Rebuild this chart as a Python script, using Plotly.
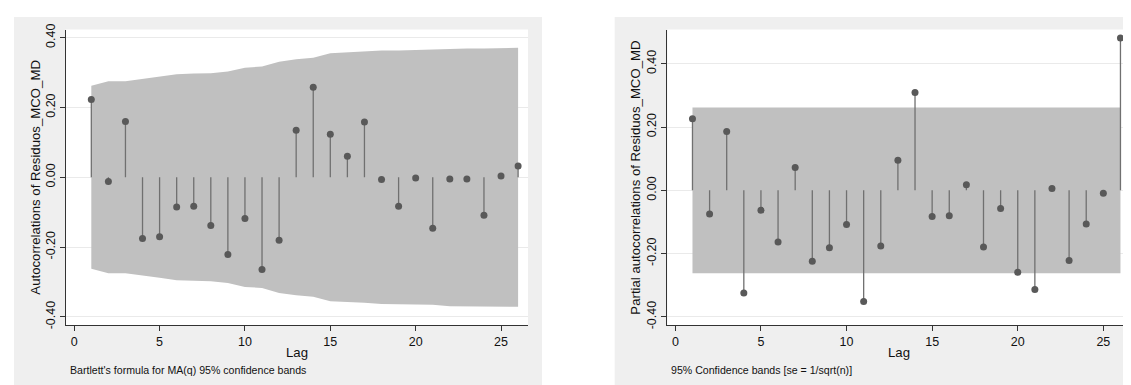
import plotly.graph_objects as go

# ---------------- data ----------------
lags = list(range(1, 27))
acf_values = [0.223, -0.012, 0.160, -0.175, -0.170, -0.085, -0.083, -0.138, -0.221, -0.118,
              -0.264, -0.180, 0.135, 0.258, 0.123, 0.060, 0.158, -0.006, -0.083, -0.002,
              -0.146, -0.005, -0.005, -0.109, 0.004, 0.032]
acf_band = [0.262, 0.275, 0.275, 0.281, 0.288, 0.295, 0.297, 0.298, 0.303, 0.314,
            0.317, 0.331, 0.338, 0.342, 0.355, 0.358, 0.359, 0.363, 0.363, 0.365,
            0.365, 0.369, 0.369, 0.369, 0.371, 0.371]
pacf_values = [0.226, -0.075, 0.186, -0.324, -0.063, -0.163, 0.072, -0.224, -0.181, -0.108,
               -0.351, -0.176, 0.095, 0.309, -0.083, -0.080, 0.018, -0.179, -0.057, -0.259,
               -0.313, 0.006, -0.222, -0.106, -0.009, 0.481]
pacf_band = 0.262

x_ticks = [0, 5, 10, 15, 20, 25]
y_ticks = [-0.4, -0.2, 0.0, 0.2, 0.4]
y_ticktext = ["-0.40", "-0.20", "0.00", "0.20", "0.40"]

acf_title = "Autocorrelations of Residuos_MCO_MD"
pacf_title = "Partial autocorrelations of Residuos_MCO_MD"
x_title = "Lag"
acf_note = "Bartlett's formula for MA(q) 95% confidence bands"
pacf_note = "95% Confidence bands [se = 1/sqrt(n)]"

# ---------------- styling ----------------
W, H = 1131, 385
FONT = "Arial, Liberation Sans, sans-serif"
BAND = "#c0c0c0"
DOT = "#595959"
STEM = "#707070"
PANEL = "#efefef"
GRID = "#eaeaea"
AXIS = "#333333"
TICK_SIZE = 12.5
TITLE_SIZE = 13.2
NOTE_SIZE = 10.6


def px(x):
    return x / W


def py(y):
    return 1 - y / H


fig = go.Figure()


def add_panel(xref, yref, band_x, band_hi, band_lo, values):
    fig.add_trace(go.Scatter(
        x=band_x + band_x[::-1], y=band_hi + band_lo[::-1],
        fill="toself", fillcolor=BAND, line=dict(width=0), mode="lines",
        hoverinfo="skip", showlegend=False, xaxis=xref, yaxis=yref))
    sx, sy = [], []
    for k, v in zip(lags, values):
        sx += [k, k, None]
        sy += [0, v, None]
    fig.add_trace(go.Scatter(
        x=sx, y=sy, mode="lines", line=dict(color=STEM, width=1.3),
        hoverinfo="skip", showlegend=False, xaxis=xref, yaxis=yref))
    fig.add_trace(go.Scatter(
        x=lags, y=values, mode="markers",
        marker=dict(color=DOT, size=7, line=dict(width=0)),
        showlegend=False, xaxis=xref, yaxis=yref))


add_panel("x", "y", lags, acf_band, [-b for b in acf_band], acf_values)
add_panel("x2", "y2", [lags[0], lags[-1]], [pacf_band, pacf_band],
          [-pacf_band, -pacf_band], pacf_values)

# gray outer panels
for x0, x1 in [(6, 534), (606.7, 1130)]:
    fig.add_shape(type="rect", xref="paper", yref="paper",
                  x0=px(x0), x1=px(x1), y0=py(384), y1=py(3),
                  fillcolor=PANEL, line=dict(width=0), layer="below")
# white plot regions
for x0, x1 in [(57.7, 520), (659.3, 1121.7)]:
    fig.add_shape(type="rect", xref="paper", yref="paper",
                  x0=px(x0), x1=px(x1), y0=py(319.3), y1=py(16),
                  fillcolor="white", line=dict(width=0), layer="below")

xax = dict(tickvals=x_ticks, showgrid=False, zeroline=False, showline=True,
           linecolor=AXIS, linewidth=1.3, ticks="outside", ticklen=5,
           tickcolor=AXIS, tickfont=dict(size=TICK_SIZE, color="#111", family=FONT),
           fixedrange=True)
yax = dict(tickvals=y_ticks, ticktext=y_ticktext, tickangle=-90, showgrid=True,
           gridcolor=GRID, gridwidth=1, zeroline=False, showline=True,
           linecolor=AXIS, linewidth=1.3, ticks="outside", ticklen=5,
           tickcolor=AXIS, tickfont=dict(size=TICK_SIZE, color="#111", family=FONT),
           fixedrange=True)

fig.update_layout(
    width=W, height=H, margin=dict(l=0, r=0, t=0, b=0),
    paper_bgcolor="white", plot_bgcolor="rgba(0,0,0,0)",
    font=dict(family=FONT, color="#111"),
    xaxis=dict(xax, domain=[px(57.7), px(520)], range=[-0.5, 26.58], anchor="y"),
    yaxis=dict(yax, domain=[py(319.3), py(16)], range=[-0.423, 0.423], anchor="x"),
    xaxis2=dict(xax, domain=[px(659.3), px(1121.7)], range=[-0.47, 26.54], anchor="y2"),
    yaxis2=dict(yax, domain=[py(319.3), py(16)], range=[-0.4255, 0.508], anchor="x2"),
)

ann = []
ann.append(dict(text=acf_title, x=px(28), y=py(168), textangle=-90, font=dict(size=TITLE_SIZE)))
ann.append(dict(text=pacf_title, x=px(628), y=py(168), textangle=-90, font=dict(size=TITLE_SIZE)))
ann.append(dict(text=x_title, x=px(289), y=py(348), font=dict(size=TITLE_SIZE)))
ann.append(dict(text=x_title, x=px(890.5), y=py(348), font=dict(size=TITLE_SIZE)))
for a in ann:
    a.update(xref="paper", yref="paper", showarrow=False, xanchor="center", yanchor="middle")
    fig.add_annotation(**a)
fig.add_annotation(text=acf_note, x=px(59.5), y=py(366), xref="paper", yref="paper",
                   showarrow=False, xanchor="left", yanchor="middle", font=dict(size=NOTE_SIZE))
fig.add_annotation(text=pacf_note, x=px(660.5), y=py(366), xref="paper", yref="paper",
                   showarrow=False, xanchor="left", yanchor="middle", font=dict(size=NOTE_SIZE))

fig.write_html("out.html")
